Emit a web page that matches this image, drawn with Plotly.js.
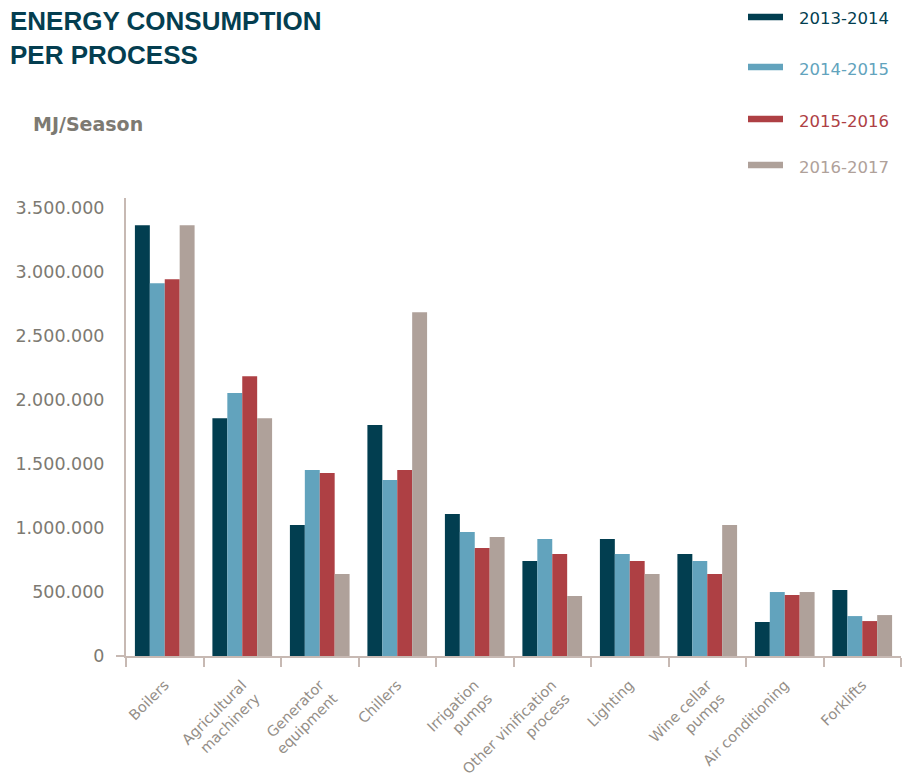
<!DOCTYPE html>
<html><head><meta charset="utf-8">
<script src="https://cdn.plot.ly/plotly-3.0.1.min.js"></script>
<style>html,body{margin:0;padding:0;background:#fff}#chart{width:902px;height:776px}</style>
</head><body><div id="chart"></div>
<script>
const categories = ["Boilers", "Agricultural<br>machinery", "Generator<br>equipment", "Chillers",
  "Irrigation<br>pumps", "Other vinification<br>process", "Lighting", "Wine cellar<br>pumps",
  "Air conditioning", "Forklifts"];
const seasons = ["2013-2014", "2014-2015", "2015-2016", "2016-2017"];
const season2013 = [3367000, 1859000, 1023000, 1805000, 1109000, 742000, 914000, 797000, 266000, 516000];
const season2014 = [2914000, 2055000, 1453000, 1375000, 969000, 914000, 797000, 742000, 500000, 312000];
const season2015 = [2945000, 2187000, 1430000, 1453000, 844000, 797000, 742000, 641000, 477000, 273000];
const season2016 = [3367000, 1859000, 641000, 2687000, 930000, 469000, 641000, 1023000, 500000, 320000];
const seriesValues = [season2013, season2014, season2015, season2016];
const colors = ["#023e50", "#62a3bd", "#ae4044", "#afa19a"];

// layout geometry (pixels)
const W = 902, H = 776;
const M = {l: 126, r: 1, t: 198, b: 120};
const plotW = W - M.l - M.r, plotH = H - M.t - M.b;
const px2x = px => (px - M.l) / plotW;
const py2y = py => (H - M.b - py) / plotH;

const traces = seriesValues.map((vals, i) => ({
  type: "bar", name: seasons[i], x: categories, y: vals,
  marker: {color: colors[i], line: {width: 0}}, showlegend: false
}));

const legendY = [17, 67, 119, 165];
const shapes = [];
const annotations = [];
seasons.forEach((s, i) => {
  shapes.push({type: "rect", xref: "paper", yref: "paper",
    x0: px2x(748), x1: px2x(783), y0: py2y(legendY[i] + 3.3), y1: py2y(legendY[i] - 3.3),
    fillcolor: colors[i], line: {width: 0}});
  annotations.push({xref: "paper", yref: "paper", x: px2x(797), y: py2y(legendY[i] + 2),
    xanchor: "left", yanchor: "middle", showarrow: false, text: s,
    font: {family: "DejaVu Sans", size: 16.5, color: colors[i]}});
});
annotations.push({xref: "paper", yref: "paper", x: px2x(31), y: py2y(124),
  xanchor: "left", yanchor: "middle", showarrow: false, text: "MJ/Season",
  font: {family: "DejaVu Sans", size: 19, color: "#7d7a72", weight: "bold"}});
shapes.push({type: "line", xref: "paper", yref: "paper", x0: px2x(116), x1: 0, y0: 0, y1: 0,
  line: {color: "#c7b9b3", width: 2}});

const layout = {
  width: W, height: H, margin: M,
  paper_bgcolor: "#fff", plot_bgcolor: "#fff",
  separators: ",.",
  barmode: "group", bargap: 0.23, bargroupgap: 0,
  title: {text: "ENERGY CONSUMPTION<br>PER PROCESS", xref: "container", yref: "container",
    x: 10 / W, xanchor: "left", y: 1 - 30 / H, yanchor: "top",
    font: {family: "Liberation Sans", size: 26, color: "#043e50", weight: "bold"}},
  xaxis: {type: "category", showline: true, linecolor: "#c7b9b3", linewidth: 2,
    ticks: "outside", tickson: "boundaries", ticklen: 9, tickwidth: 2, tickcolor: "#c7b9b3",
    tickangle: -45, ticklabelstandoff: 13,
    tickfont: {family: "DejaVu Sans", size: 14.5, color: "#948e87"},
    showgrid: false, zeroline: false, fixedrange: true},
  yaxis: {range: [0, 3580000], dtick: 500000, tickformat: ",", showline: true,
    linecolor: "#c7b9b3", linewidth: 2, ticks: "", showgrid: false, zeroline: false,
    ticklabelstandoff: 16,
    tickfont: {family: "DejaVu Sans", size: 17.5, color: "#7d7a72"}, fixedrange: true},
  shapes: shapes, annotations: annotations, showlegend: false
};
Plotly.newPlot("chart", traces, layout, {displayModeBar: false, staticPlot: true});
</script></body></html>
